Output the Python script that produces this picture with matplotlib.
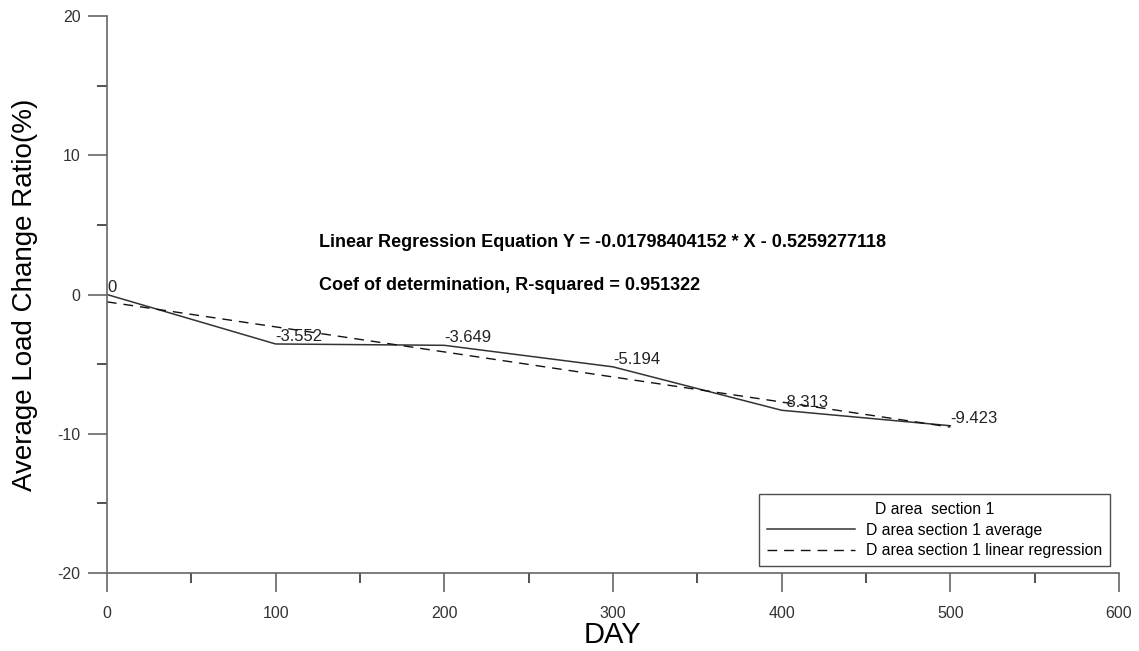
import numpy as np
import matplotlib.pyplot as plt

plt.rcParams['font.family'] = ['Liberation Sans', 'DejaVu Sans']
plt.rcParams['axes.unicode_minus'] = False

# donnees
days = [0, 100, 200, 300, 400, 500]
avg_ratio = [0, -3.552, -3.649, -5.194, -8.313, -9.423]
labels = ['0', '-3.552', '-3.649', '-5.194', '-8.313', '-9.423']
slope = -0.01798404152
intercept = -0.5259277118
r_squared = 0.951322

fig = plt.figure(figsize=(11.39, 6.51), dpi=100)
ax = fig.add_axes([0.0939, 0.1198, 0.8885, 0.8556])

ax.plot(days, avg_ratio, color='#333333', lw=1.1, label='D area section 1 average')
reg_x = np.array([days[0], days[-1]])
ax.plot(reg_x, slope * reg_x + intercept, color='#111111', lw=1.0,
        dashes=(7, 5), label='D area section 1 linear regression')

for d, v, t in zip(days, avg_ratio, labels):
    ax.annotate(t, (d, v), xytext=(0, 0), textcoords='offset points',
                ha='left', va='bottom', fontsize=12, color='#222222')

ax.text(126, 3.7, 'Linear Regression Equation Y = %.11f * X - %.10f' % (slope, -intercept),
        fontsize=13, fontweight='bold', va='center')
ax.text(126, 0.68, 'Coef of determination, R-squared = %g' % r_squared,
        fontsize=13, fontweight='bold', va='center')

ax.set_xlim(0, 600)
ax.set_ylim(-20, 20)
ax.set_xticks(range(0, 601, 100))
ax.set_xticks(range(50, 600, 100), minor=True)
ax.set_yticks([-20, -10, 0, 10, 20])
ax.set_yticks([-15, -5, 5, 15], minor=True)

for s in ['top', 'right']:
    ax.spines[s].set_visible(False)
for s in ['left', 'bottom']:
    ax.spines[s].set_color('#666666')
    ax.spines[s].set_linewidth(1.2)

ax.tick_params(which='major', length=14, width=1.2, color='#666666',
               labelsize=11.5, labelcolor='#333333')
ax.tick_params(axis='x', which='major', pad=10)
ax.tick_params(axis='y', which='major', pad=5)
ax.tick_params(which='minor', length=7, width=1.2, color='#333333')

ax.set_xlabel('DAY', fontsize=21, labelpad=0)
ax.set_ylabel('Average Load Change Ratio(%)', fontsize=20, labelpad=14)

leg = ax.legend(title='D area  section 1', loc='lower right',
                bbox_to_anchor=(0.991, 0.0126), fontsize=11.3, title_fontsize=11.3,
                handlelength=5.6, frameon=True, fancybox=False, borderpad=0.5,
                labelspacing=0.35, handletextpad=0.7, borderaxespad=0)
leg.get_frame().set_edgecolor('#222222')
leg.get_frame().set_linewidth(1.0)

fig.savefig('out.png', dpi=100)
